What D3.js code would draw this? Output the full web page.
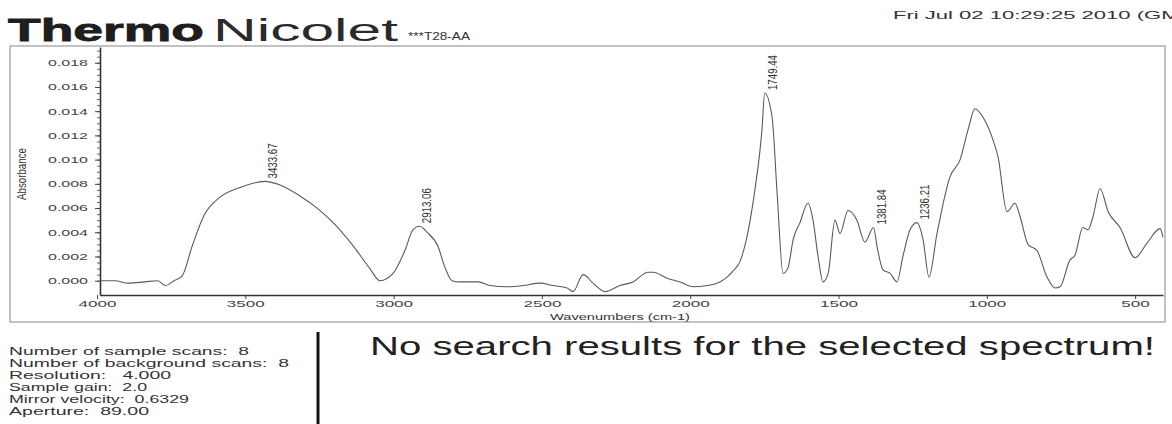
<!DOCTYPE html>
<html>
<head>
<meta charset="utf-8">
<script src="https://cdn.jsdelivr.net/npm/d3@7"></script>
<style>
  html, body { margin: 0; padding: 0; background: #fff; }
  svg { display: block; font-family: "Liberation Sans", Arial, sans-serif; }
  .pre { white-space: pre; }
</style>
</head>
<body>
<script>
// ---- data ----
const wavenumbers = [3990, 3940, 3895, 3840, 3795, 3770, 3740, 3713, 3680, 3639, 3585, 3518, 3434, 3383, 3316, 3258, 3204, 3137, 3080, 3046, 3002, 2962, 2935, 2913, 2887, 2850, 2827, 2803, 2776, 2715, 2675, 2618, 2564, 2506, 2463, 2415, 2395, 2361, 2328, 2287, 2237, 2193, 2142, 2125, 2078, 2034, 1991, 1943, 1900, 1876, 1856, 1832, 1809, 1782, 1758, 1749, 1724, 1707, 1687, 1670, 1653, 1630, 1603, 1586, 1569, 1552, 1535, 1512, 1495, 1468, 1438, 1411, 1382, 1370, 1350, 1326, 1303, 1283, 1259, 1236, 1215, 1195, 1168, 1124, 1090, 1063, 1040, 1013, 983, 962, 932, 905, 888, 861, 831, 797, 770, 753, 720, 703, 676, 659, 642, 618, 591, 551, 500, 460, 416, 406];
const absorbance = [0.0000, 0.0000, -0.0002, -0.0001, 0.0000, -0.0004, 0.0000, 0.0004, 0.0028, 0.0054, 0.0069, 0.0077, 0.0082, 0.0079, 0.0070, 0.0060, 0.0048, 0.0029, 0.0010, 0.0000, 0.0006, 0.0025, 0.0042, 0.0045, 0.0040, 0.0028, 0.0011, 0.0000, -0.0001, -0.0001, -0.0004, -0.0005, -0.0004, -0.0002, -0.0004, -0.0006, -0.0009, 0.0005, -0.0002, -0.0009, -0.0004, -0.0001, 0.0007, 0.0007, 0.0002, -0.0001, -0.0005, -0.0004, -0.0001, 0.0003, 0.0008, 0.0016, 0.0036, 0.0075, 0.0125, 0.0155, 0.0135, 0.0072, 0.0006, 0.0011, 0.0034, 0.0048, 0.0064, 0.0050, 0.0020, -0.0001, 0.0006, 0.0050, 0.0039, 0.0058, 0.0050, 0.0032, 0.0044, 0.0028, 0.0009, 0.0006, -0.0001, 0.0020, 0.0042, 0.0048, 0.0034, 0.0003, 0.0039, 0.0086, 0.0100, 0.0125, 0.0142, 0.0135, 0.0119, 0.0102, 0.0057, 0.0064, 0.0053, 0.0030, 0.0025, 0.0003, -0.0006, -0.0005, 0.0017, 0.0021, 0.0044, 0.0042, 0.0053, 0.0076, 0.0057, 0.0044, 0.0019, 0.0031, 0.0043, 0.0036];

const yTicks = [0, 0.002, 0.004, 0.006, 0.008, 0.010, 0.012, 0.014, 0.016, 0.018];
const xTicks = [4000, 3500, 3000, 2500, 2000, 1500, 1000, 500];

const peakPositions = [3433.67, 2913.06, 1749.44, 1381.84, 1236.21];
const peakHeights = [0.0082, 0.0045, 0.0155, 0.0044, 0.0048];

const infoLines = [
  "Number of sample scans:  8",
  "Number of background scans:  8",
  "Resolution:   4.000",
  "Sample gain:  2.0",
  "Mirror velocity:  0.6329",
  "Aperture:  89.00"
];
const infoWidths = [240, 280, 162, 138, 180, 140];

// ---- drawing ----
const W = 1172, H = 424;
const svg = d3.select("body").append("svg").attr("width", W).attr("height", H);
svg.append("rect").attr("width", W).attr("height", H).attr("fill", "#fff");

const x = d3.scaleLinear().domain([3990, 406]).range([100, 1163]);
const y = d3.scaleLinear().domain([-0.00118, 0.0193]).range([295, 47]);

// header
svg.append("text").attr("x", 8).attr("y", 41).attr("font-size", 31).attr("font-weight", 900)
  .attr("fill", "#1e1e1e").attr("stroke", "#1e1e1e").attr("stroke-width", 0.8)
  .attr("textLength", 196).attr("lengthAdjust", "spacingAndGlyphs").text("Thermo");
svg.append("text").attr("x", 213).attr("y", 41).attr("font-size", 31)
  .attr("fill", "#2a2a2a").attr("textLength", 185).attr("lengthAdjust", "spacingAndGlyphs").text("Nicolet");
svg.append("text").attr("x", 408).attr("y", 40).attr("font-size", 10)
  .attr("fill", "#333").attr("textLength", 62).attr("lengthAdjust", "spacingAndGlyphs").text("***T28-AA");
svg.append("text").attr("x", 893).attr("y", 19).attr("font-size", 11)
  .attr("fill", "#333").attr("textLength", 300).attr("lengthAdjust", "spacingAndGlyphs").text("Fri Jul 02 10:29:25 2010 (GMT");

// frame
svg.append("rect").attr("x", 10).attr("y", 46).attr("width", 1155).attr("height", 276)
  .attr("fill", "none").attr("stroke", "#9a9a9a").attr("stroke-width", 1.2);

// y axis
const yMinor = d3.range(0, 0.01925, 0.0005);
svg.append("g").attr("transform", "translate(100,0)")
  .call(d3.axisLeft(y).tickValues(yMinor).tickSize(3).tickSizeOuter(0).tickFormat(""))
  .call(g => g.select(".domain").remove())
  .selectAll("line").attr("stroke", "#666");
const yAx = svg.append("g").attr("transform", "translate(100,0)")
  .call(d3.axisLeft(y).tickValues(yTicks).tickSize(5).tickSizeOuter(0).tickPadding(7).tickFormat(d3.format(".3f")));
yAx.select(".domain").attr("stroke", "#333").attr("stroke-width", 1.6);
yAx.selectAll("line").attr("stroke", "#444");
yAx.selectAll("text").attr("font-size", 9).attr("fill", "#444").attr("font-family", "Liberation Sans, Arial, sans-serif")
  .attr("textLength", 40).attr("lengthAdjust", "spacingAndGlyphs");

// x axis
const xAx = svg.append("g").attr("transform", "translate(0,295)")
  .call(d3.axisBottom(x).tickValues(xTicks).tickSize(4).tickSizeOuter(0).tickPadding(2).tickFormat(d3.format("d")));
xAx.select(".domain").attr("stroke", "#333").attr("stroke-width", 1.6);
xAx.selectAll("line").attr("stroke", "#444");
xAx.selectAll("text").attr("font-size", 9).attr("fill", "#444").attr("font-family", "Liberation Sans, Arial, sans-serif")
  .attr("textLength", d => String(d).length * 9.5).attr("lengthAdjust", "spacingAndGlyphs");

// axis titles
svg.append("text").attr("x", 620).attr("y", 320).attr("text-anchor", "middle").attr("font-size", 8.5)
  .attr("fill", "#333").attr("textLength", 140).attr("lengthAdjust", "spacingAndGlyphs").text("Wavenumbers (cm-1)");
svg.append("text").attr("transform", "translate(26,174) scale(1.5,1) rotate(-90)")
  .attr("text-anchor", "middle").attr("font-size", 8).attr("fill", "#333")
  .attr("textLength", 52).attr("lengthAdjust", "spacingAndGlyphs").text("Absorbance");

// spectrum
const pts = wavenumbers.map((w, i) => [w, absorbance[i]]);
svg.append("path").datum(pts)
  .attr("fill", "none").attr("stroke", "#5a5a5a").attr("stroke-width", 1.1)
  .attr("d", d3.line().x(d => x(d[0])).y(d => y(d[1])).curve(d3.curveMonotoneX));

// peak labels
svg.append("g").selectAll("text").data(peakPositions).join("text")
  .attr("transform", (d, i) => `translate(${x(d) + 12},${y(peakHeights[i]) - 3}) scale(1.6,1) rotate(-90)`)
  .attr("font-size", 8.5).attr("fill", "#333")
  .attr("textLength", 35).attr("lengthAdjust", "spacingAndGlyphs")
  .text(d => d3.format(".2f")(d));

// lower info panel
svg.append("g").selectAll("text").data(infoLines).join("text")
  .attr("class", "pre")
  .attr("x", 9).attr("y", (d, i) => 355 + i * 12)
  .attr("font-size", 10).attr("fill", "#333")
  .attr("textLength", (d, i) => infoWidths[i]).attr("lengthAdjust", "spacingAndGlyphs")
  .text(d => d);

svg.append("line").attr("x1", 318).attr("x2", 318).attr("y1", 332).attr("y2", 424)
  .attr("stroke", "#111").attr("stroke-width", 3);

svg.append("text").attr("x", 370).attr("y", 355).attr("font-size", 25).attr("fill", "#222")
  .attr("textLength", 785).attr("lengthAdjust", "spacingAndGlyphs").text("No search results for the selected spectrum!");
</script>
</body>
</html>
